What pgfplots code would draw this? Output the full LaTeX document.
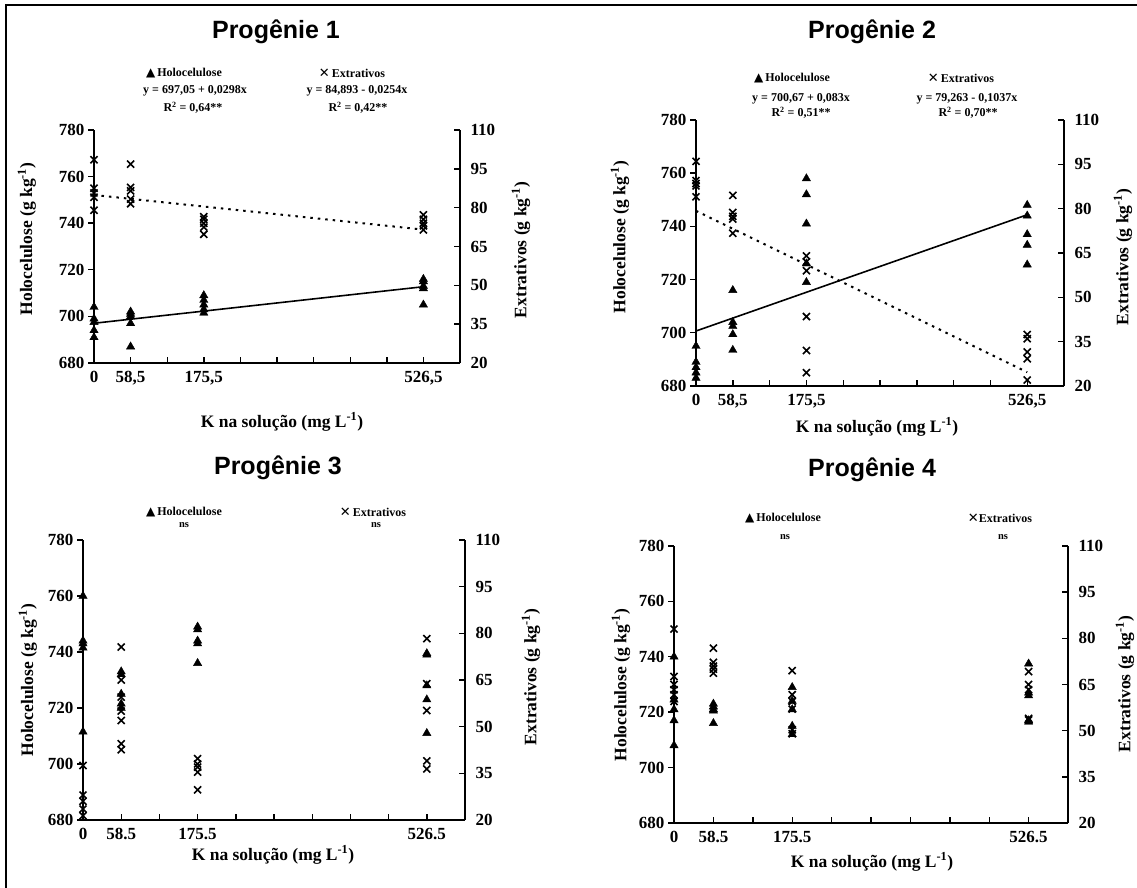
\documentclass[border=0pt]{standalone}
\usepackage{fontspec}
\setmainfont{Liberation Serif}
\newfontfamily\arial{Liberation Sans}
\newfontfamily\dejavu{DejaVu Sans}
\usepackage{pgfplots}
\pgfplotsset{compat=1.18}

\newcommand\tfont{\fontsize{17}{19}\selectfont\bfseries}
\newcommand\lfont{\fontsize{17.5}{20}\selectfont\bfseries}
\newcommand\sfont{\fontsize{12}{14}\selectfont\bfseries}
\newcommand\nsfont{\fontsize{10.5}{12}\selectfont\bfseries}
\newcommand\ttl{\arial\fontsize{25}{28}\selectfont\bfseries}
\newcommand\tri{{\dejavu\fontsize{12}{12}\selectfont ▲}}
\newcommand\crs{{\dejavu\fontsize{13}{12}\selectfont ✕}}

\pgfplotsset{
 base/.style={scale only axis, xmin=0, xmax=585, clip=false,
   axis line style={line width=1.7pt,-}, tick style={line width=1.4pt,black},
   major tick length=6pt, tick label style={font=\tfont}},
 leftax/.style={base, axis y line*=left, axis x line=none, tick align=outside,
   ymin=680, ymax=780, ytick={680,700,720,740,760,780},
   yticklabels={680,700,720,740,760,780}, xtick=\empty},
 rightax/.style={base, axis y line*=right, axis x line*=bottom, tick align=inside,
   ymin=20, ymax=110, ytick={20,35,50,65,80,95,110},
   yticklabels={20,35,50,65,80,95,110}, yticklabel style={xshift=7pt},
   xtick={0,58.5,117,175.5,234,292.5,351,409.5,468,526.5,585},
   xticklabel style={yshift=-5pt}},
 holo/.style={only marks, mark=triangle*, mark size=4.8pt, black},
 extr/.style={only marks, mark=x, mark size=5pt, black, mark options={line width=1.6pt}},
 regs/.style={black, line width=1.6pt, no marks},
 regd/.style={black, line width=2pt, no marks, dash pattern=on 2.5pt off 5pt},
}

\begin{document}
\begin{tikzpicture}
\useasboundingbox (0,0) rectangle (1137pt,888pt);
\draw[line width=2pt] (5.5pt,0pt) -- (5.5pt,883pt) -- (1137pt,883pt);

% ---------------- Panel 1 ----------------
\begin{axis}[leftax, width=366pt, height=233pt, at={(94pt,525pt)}, anchor=south west]
\addplot[holo] coordinates {(0,704)(0,699)(0,697.5)(0,694)(0,691)
 (58.5,702)(58.5,701)(58.5,700)(58.5,697)(58.5,687)
 (175.5,709)(175.5,707)(175.5,705)(175.5,703)(175.5,701.5)
 (526.5,716)(526.5,715)(526.5,713)(526.5,712)(526.5,705)};
\addplot[regs] coordinates {(0,697.05)(526.5,712.74)};
\end{axis}
\begin{axis}[rightax, width=366pt, height=233pt, at={(94pt,525pt)}, anchor=south west,
  xticklabels={0,{58,5},{},{175,5},{},{},{},{},{},{526,5},{}}]
\addplot[extr] coordinates {(0,98.5)(0,87.5)(0,85.7)(0,84)(0,79)
 (58.5,96.8)(58.5,87.8)(58.5,86.5)(58.5,83.3)(58.5,81.5)
 (175.5,76.5)(175.5,75.5)(175.5,74)(175.5,72.5)(175.5,69.7)
 (526.5,77.2)(526.5,75.5)(526.5,74)(526.5,73)(526.5,71.4)};
\addplot[regd] coordinates {(0,84.893)(526.5,71.52)};
\end{axis}
\node[font=\ttl] at (276pt,856pt) {Progênie 1};
\node[font=\sfont] at (184pt,815pt) {\tri\,Holocelulose};
\node[font=\sfont] at (195pt,797pt) {y = 697,05 + 0,0298x};
\node[font=\sfont] at (193pt,780pt) {R\textsuperscript{2} = 0,64**};
\node[font=\sfont] at (352pt,815pt) {\crs\,Extrativos};
\node[font=\sfont] at (357pt,797pt) {y = 84,893 - 0,0254x};
\node[font=\sfont] at (358pt,780pt) {R\textsuperscript{2} = 0,42**};
\node[font=\lfont, rotate=90] at (27pt,649pt) {Holocelulose (g kg\textsuperscript{-1})};
\node[font=\lfont, rotate=90] at (521pt,638pt) {Extrativos (g kg\textsuperscript{-1})};
\node[font=\lfont] at (282pt,466pt) {K na solução (mg L\textsuperscript{-1})};

% ---------------- Panel 2 ----------------
\begin{axis}[leftax, width=368pt, height=266pt, at={(696pt,502pt)}, anchor=south west]
\addplot[holo] coordinates {(0,695)(0,689)(0,687)(0,685)(0,683)
 (58.5,716)(58.5,704)(58.5,702.5)(58.5,699.4)(58.5,693.5)
 (175.5,758)(175.5,752)(175.5,741)(175.5,726)(175.5,719)
 (526.5,748)(526.5,744)(526.5,737)(526.5,733)(526.5,725.6)};
\addplot[regs] coordinates {(0,700.67)(526.5,744.37)};
\end{axis}
\begin{axis}[rightax, width=368pt, height=266pt, at={(696pt,502pt)}, anchor=south west,
  xticklabels={0,{58,5},{},{175,5},{},{},{},{},{},{526,5},{}}]
\addplot[extr] coordinates {(0,96)(0,89.5)(0,88.5)(0,87.7)(0,84)
 (58.5,84.5)(58.5,78.7)(58.5,77.4)(58.5,76.5)(58.5,71.7)
 (175.5,64)(175.5,62)(175.5,59)(175.5,43.5)(175.5,32)(175.5,24.5)
 (526.5,37.4)(526.5,36)(526.5,31.5)(526.5,29.2)(526.5,22)};
\addplot[regd] coordinates {(0,79.263)(526.5,24.66)};
\end{axis}
\node[font=\ttl] at (872pt,856pt) {Progênie 2};
\node[font=\sfont] at (792pt,810pt) {\tri\,Holocelulose};
\node[font=\sfont] at (801pt,789pt) {y = 700,67 + 0,083x};
\node[font=\sfont] at (801pt,775pt) {R\textsuperscript{2} = 0,51**};
\node[font=\sfont] at (961pt,810pt) {\crs\,Extrativos};
\node[font=\sfont] at (967pt,789pt) {y = 79,263 - 0,1037x};
\node[font=\sfont] at (968pt,775pt) {R\textsuperscript{2} = 0,70**};
\node[font=\lfont, rotate=90] at (620pt,651pt) {Holocelulose (g kg\textsuperscript{-1})};
\node[font=\lfont, rotate=90] at (1123pt,631pt) {Extrativos (g kg\textsuperscript{-1})};
\node[font=\lfont] at (877pt,461pt) {K na solução (mg L\textsuperscript{-1})};

% ---------------- Panel 3 ----------------
\begin{axis}[leftax, width=382pt, height=280pt, at={(83pt,68pt)}, anchor=south west]
\addplot[holo] coordinates {(0,760)(0,744)(0,743)(0,741.5)(0,711.5)
 (58.5,733)(58.5,732)(58.5,725)(58.5,721.5)(58.5,720)
 (175.5,749)(175.5,748)(175.5,744)(175.5,743)(175.5,736)
 (526.5,739.5)(526.5,739)(526.5,728)(526.5,723)(526.5,711)};
\end{axis}
\begin{axis}[rightax, width=382pt, height=280pt, at={(83pt,68pt)}, anchor=south west,
  xticklabels={0,58.5,{},175.5,{},{},{},{},{},526.5,{}}]
\addplot[extr] coordinates {(0,37.5)(0,28)(0,26)(0,23.5)(0,21.4)
 (58.5,75.6)(58.5,65)(58.5,59.5)(58.5,55)(58.5,52)(58.5,44.5)(58.5,42.6)
 (175.5,39.7)(175.5,38)(175.5,37)(175.5,35.4)(175.5,29.7)
 (526.5,78.3)(526.5,63.8)(526.5,55.2)(526.5,39)(526.5,36.4)};
\end{axis}
\node[font=\ttl] at (278pt,420pt) {Progênie 3};
\node[font=\sfont] at (184pt,376pt) {\tri\,Holocelulose};
\node[font=\nsfont] at (184pt,363pt) {ns};
\node[font=\sfont] at (373pt,376pt) {\crs\,Extrativos};
\node[font=\nsfont] at (376pt,363pt) {ns};
\node[font=\lfont, rotate=90] at (28pt,208pt) {Holocelulose (g kg\textsuperscript{-1})};
\node[font=\lfont, rotate=90] at (531pt,211pt) {Extrativos (g kg\textsuperscript{-1})};
\node[font=\lfont] at (273pt,33pt) {K na solução (mg L\textsuperscript{-1})};

% ---------------- Panel 4 ----------------
\begin{axis}[leftax, width=394pt, height=277pt, at={(674pt,65pt)}, anchor=south west]
\addplot[holo] coordinates {(0,740)(0,724.5)(0,721)(0,717)(0,708)
 (58.5,723)(58.5,722)(58.5,721)(58.5,720.5)(58.5,716)
 (175.5,729)(175.5,724)(175.5,721)(175.5,715)(175.5,712)
 (526.5,737.5)(526.5,727)(526.5,726)(526.5,717)(526.5,716.5)};
\end{axis}
\begin{axis}[rightax, width=394pt, height=277pt, at={(674pt,65pt)}, anchor=south west,
  xticklabels={0,58.5,{},175.5,{},{},{},{},{},526.5,{}}]
\addplot[extr] coordinates {(0,83)(0,67.6)(0,65)(0,63.3)(0,61.7)(0,59.5)
 (58.5,76.8)(58.5,72.2)(58.5,71)(58.5,70)(58.5,68.7)
 (175.5,69.5)(175.5,61.7)(175.5,59.5)(175.5,57)(175.5,50.3)(175.5,49)
 (526.5,69.2)(526.5,65)(526.5,63.3)(526.5,54)(526.5,53.5)};
\end{axis}
\node[font=\ttl] at (872pt,418pt) {Progênie 4};
\node[font=\sfont] at (783pt,370pt) {\tri\,Holocelulose};
\node[font=\nsfont] at (785pt,351pt) {ns};
\node[font=\sfont] at (1000pt,370pt) {\crs{}Extrativos};
\node[font=\nsfont] at (1003pt,351pt) {ns};
\node[font=\lfont, rotate=90] at (621pt,203pt) {Holocelulose (g kg\textsuperscript{-1})};
\node[font=\lfont, rotate=90] at (1125pt,204pt) {Extrativos (g kg\textsuperscript{-1})};
\node[font=\lfont] at (872pt,26pt) {K na solução (mg L\textsuperscript{-1})};
\end{tikzpicture}
\end{document}
